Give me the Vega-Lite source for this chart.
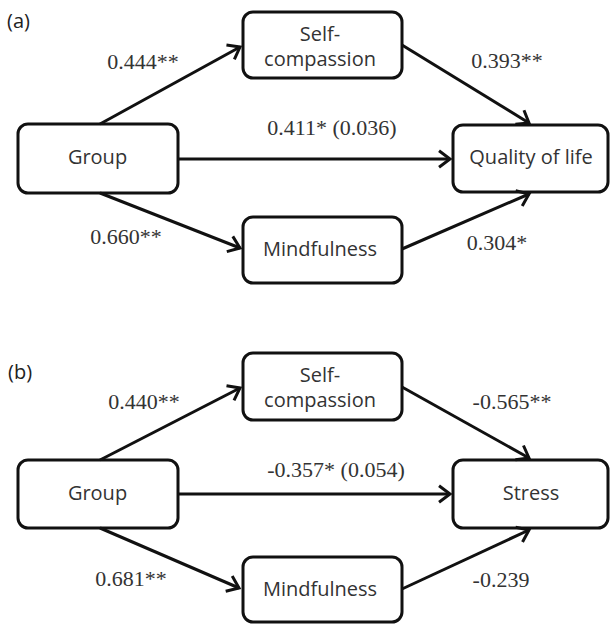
{
  "$schema": "https://vega.github.io/schema/vega-lite/v6.json",
  "width": 610,
  "height": 625,
  "padding": 0,
  "autosize": {"type": "none"},
  "background": "white",
  "config": {"view": {"stroke": null}},
  "datasets": {
    "boxes": [
      {"node": "Group (a)", "x1": 18, "x2": 178, "y1": 124, "y2": 193},
      {"node": "Self-compassion (a)", "x1": 243, "x2": 402, "y1": 12, "y2": 78},
      {"node": "Quality of life (a)", "x1": 453, "x2": 608, "y1": 125, "y2": 192},
      {"node": "Mindfulness (a)", "x1": 243, "x2": 402, "y1": 217, "y2": 283},
      {"node": "Group (b)", "x1": 18, "x2": 178, "y1": 460, "y2": 528},
      {"node": "Self-compassion (b)", "x1": 243, "x2": 402, "y1": 353, "y2": 420},
      {"node": "Stress (b)", "x1": 453, "x2": 608, "y1": 460, "y2": 528},
      {"node": "Mindfulness (b)", "x1": 243, "x2": 402, "y1": 557, "y2": 622}
    ],
    "nodeLabels": [
      {"label": "Group", "x": 97.5, "y": 158},
      {"label": "Self-", "x": 320, "y": 35},
      {"label": "compassion", "x": 320, "y": 60},
      {"label": "Quality of life", "x": 531, "y": 158},
      {"label": "Mindfulness", "x": 320, "y": 250},
      {"label": "Group", "x": 97.5, "y": 494},
      {"label": "Self-", "x": 320, "y": 376},
      {"label": "compassion", "x": 320, "y": 401},
      {"label": "Stress", "x": 531, "y": 494},
      {"label": "Mindfulness", "x": 320, "y": 590}
    ],
    "edges": [
      {"path": "a1", "x1": 100, "y1": 124, "x2": 240, "y2": 47},
      {"path": "a2", "x1": 402, "y1": 45, "x2": 529, "y2": 123},
      {"path": "a3", "x1": 178, "y1": 159, "x2": 450, "y2": 159},
      {"path": "a4", "x1": 100, "y1": 193, "x2": 240, "y2": 248},
      {"path": "a5", "x1": 402, "y1": 249, "x2": 529, "y2": 194},
      {"path": "b1", "x1": 100, "y1": 460, "x2": 240, "y2": 388},
      {"path": "b2", "x1": 402, "y1": 387, "x2": 529, "y2": 458},
      {"path": "b3", "x1": 178, "y1": 494, "x2": 450, "y2": 494},
      {"path": "b4", "x1": 100, "y1": 528, "x2": 239, "y2": 588},
      {"path": "b5", "x1": 402, "y1": 589, "x2": 529, "y2": 530}
    ],
    "coeffs": [
      {"label": "0.444**", "x": 143, "y": 62},
      {"label": "0.393**", "x": 507, "y": 61},
      {"label": "0.411* (0.036)", "x": 332, "y": 128},
      {"label": "0.660**", "x": 126, "y": 237},
      {"label": "0.304*", "x": 497, "y": 243},
      {"label": "0.440**", "x": 144, "y": 402},
      {"label": "-0.565**", "x": 512, "y": 402},
      {"label": "-0.357* (0.054)", "x": 336, "y": 470},
      {"label": "0.681**", "x": 131, "y": 579},
      {"label": "-0.239", "x": 501, "y": 580}
    ],
    "panels": [
      {"label": "(a)", "x": 7, "y": 22},
      {"label": "(b)", "x": 8, "y": 373}
    ]
  },
  "layer": [
    {
      "data": {"name": "boxes"},
      "mark": {"type": "rect", "cornerRadius": 10, "fill": "white", "stroke": "#111", "strokeWidth": 3},
      "encoding": {
        "x": {"field": "x1", "type": "quantitative", "scale": {"domain": [0, 610], "nice": false, "zero": false}, "axis": null},
        "x2": {"field": "x2"},
        "y": {"field": "y1", "type": "quantitative", "scale": {"domain": [0, 625], "nice": false, "zero": false, "reverse": true}, "axis": null},
        "y2": {"field": "y2"}
      }
    },
    {
      "data": {"name": "edges"},
      "mark": {"type": "rule", "stroke": "#111", "strokeWidth": 3},
      "encoding": {
        "x": {"field": "x1", "type": "quantitative"},
        "x2": {"field": "x2"},
        "y": {"field": "y1", "type": "quantitative"},
        "y2": {"field": "y2"}
      }
    },
    {
      "data": {"name": "edges"},
      "transform": [
        {"calculate": "atan2(datum.y2 - datum.y1, datum.x2 - datum.x1) * 180 / PI", "as": "ang"}
      ],
      "mark": {"type": "point", "shape": "M -1 -0.75 L 0 0 L -1 0.75", "filled": false, "stroke": "#111", "strokeWidth": 3, "size": 480, "opacity": 1, "strokeJoin": "miter"},
      "encoding": {
        "x": {"field": "x2", "type": "quantitative"},
        "y": {"field": "y2", "type": "quantitative"},
        "angle": {"field": "ang", "type": "quantitative", "scale": null}
      }
    },
    {
      "data": {"name": "nodeLabels"},
      "mark": {"type": "text", "font": "Open Sans", "fontSize": 20, "fill": "#333", "align": "center", "baseline": "middle"},
      "encoding": {
        "x": {"field": "x", "type": "quantitative"},
        "y": {"field": "y", "type": "quantitative"},
        "text": {"field": "label"}
      }
    },
    {
      "data": {"name": "coeffs"},
      "mark": {"type": "text", "font": "Liberation Serif", "fontSize": 22, "fill": "#333", "align": "center", "baseline": "middle"},
      "encoding": {
        "x": {"field": "x", "type": "quantitative"},
        "y": {"field": "y", "type": "quantitative"},
        "text": {"field": "label"}
      }
    },
    {
      "data": {"name": "panels"},
      "mark": {"type": "text", "font": "Open Sans", "fontSize": 20, "fill": "#222", "align": "left", "baseline": "middle"},
      "encoding": {
        "x": {"field": "x", "type": "quantitative"},
        "y": {"field": "y", "type": "quantitative"},
        "text": {"field": "label"}
      }
    }
  ]
}
